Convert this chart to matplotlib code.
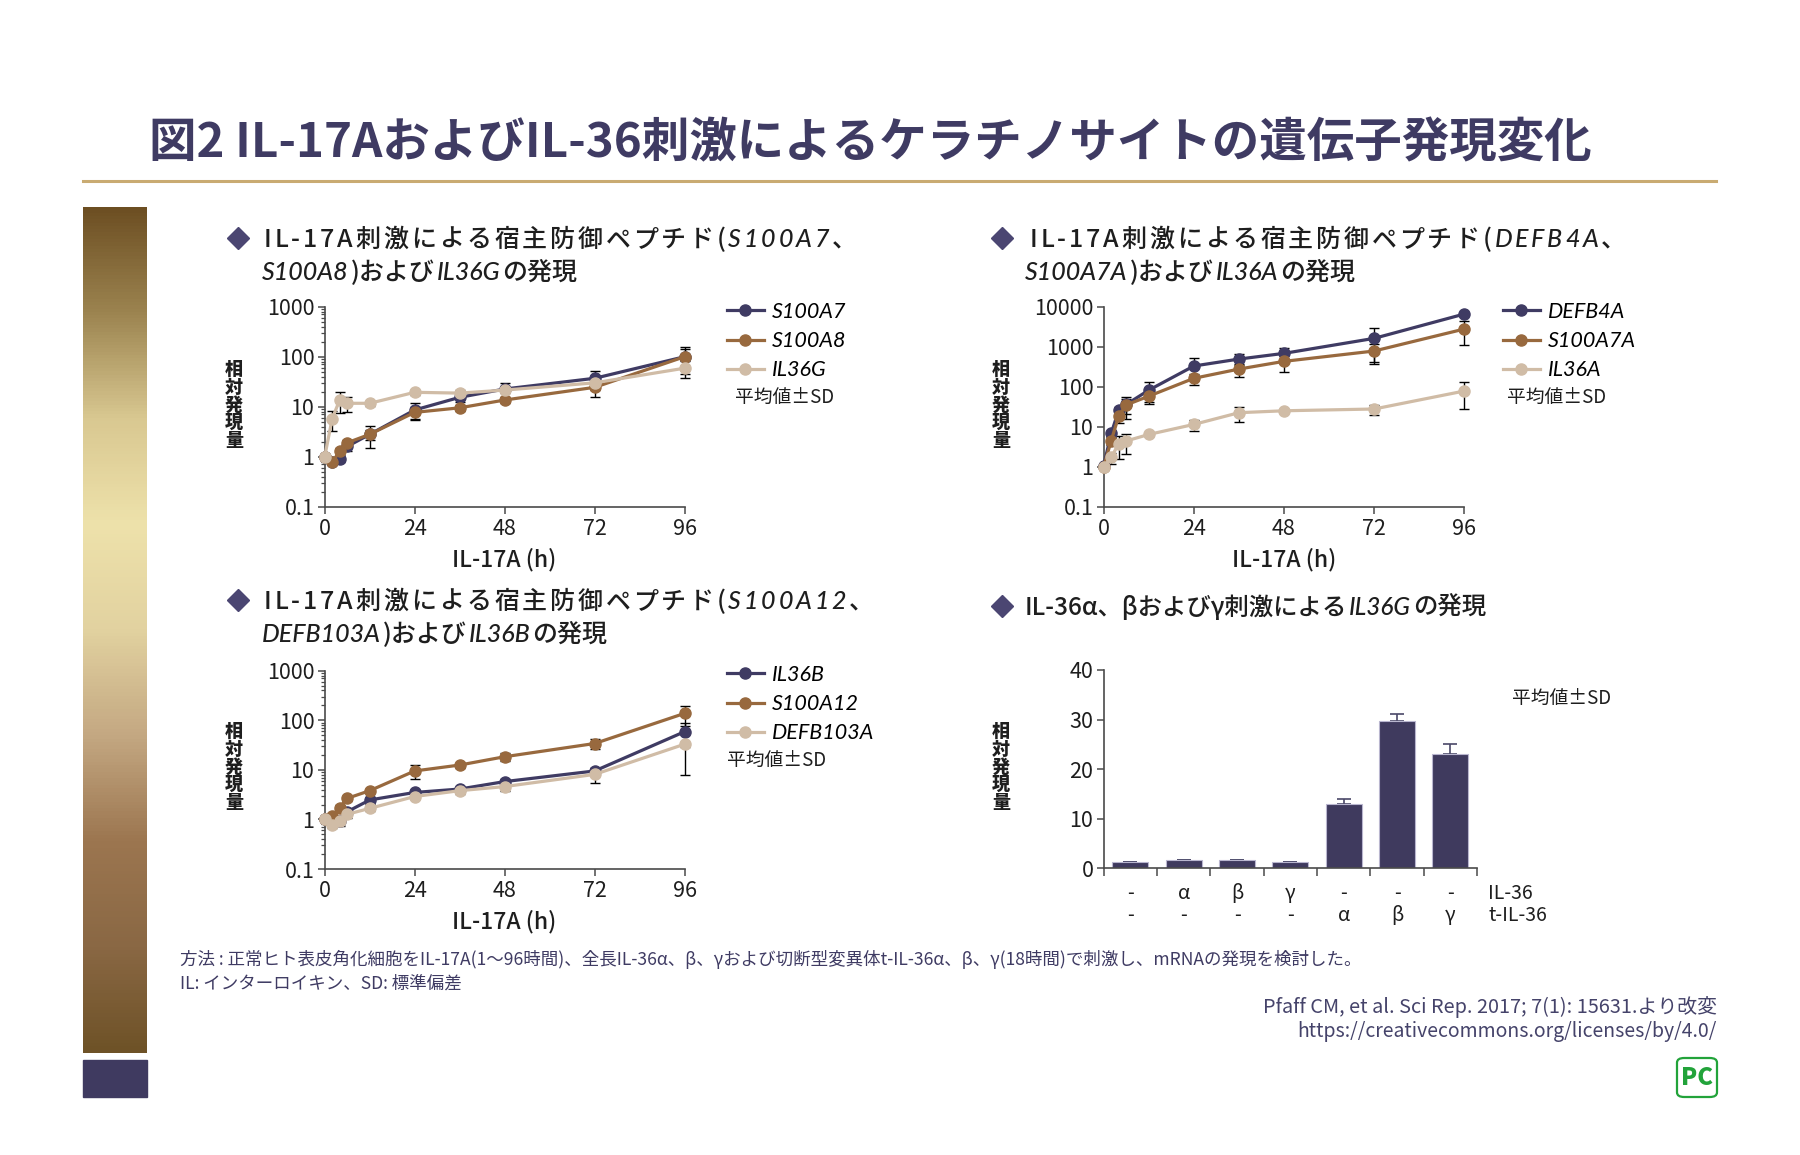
import numpy as np
import matplotlib.pyplot as plt
from matplotlib.lines import Line2D
from matplotlib.patches import FancyBboxPatch, Rectangle
from matplotlib.colors import LinearSegmentedColormap
from matplotlib.ticker import FixedLocator, LogLocator, NullFormatter
from matplotlib.font_manager import FontProperties
import matplotlib.transforms as mtransforms

plt.rcParams['font.family'] = ['Noto Sans CJK JP', 'DejaVu Sans']

# data
time_h = [0, 2, 4, 6, 12, 24, 36, 48, 72, 96]

# panel 1: S100A7, S100A8, IL36G
s100a7 = [1, 0.8, 0.9, 1.6, 2.8, 8.6, 15.4, 22.6, 37, 100]
s100a7_sd = [0, 0, 0.1, 0.3, 0.6, 3.2, 3, 7, 15, 55]
s100a8 = [1, 0.77, 1.3, 1.9, 2.8, 7.7, 9.5, 13.6, 24.4, 100]
s100a8_sd = [0, 0.05, 0.2, 0.3, 1.3, 2, 1.2, 1.5, 8.5, 45]
il36g = [1, 5.8, 13.6, 11.7, 11.7, 19.4, 18.7, 21.5, 30, 59]
il36g_sd = [0, 2.5, 6, 4, 1.5, 2.5, 2.5, 3, 5, 22]

# panel 2: DEFB4A, S100A7A, IL36A
defb4a = [1.06, 6.8, 26, 36, 82, 329, 491, 681, 1616, 6560]
defb4a_sd = [0, 1, 5, 20, 46, 180, 150, 230, 1250, 800]
s100a7a = [1, 4.5, 18.5, 35, 58, 162, 276, 430, 780, 2765]
s100a7a_sd = [0, 1, 6, 14, 16, 50, 100, 200, 360, 1650]
il36a = [1, 1.7, 3.8, 4.4, 6.4, 11.4, 22.4, 25, 27.7, 78]
il36a_sd = [0, 0.5, 2.2, 2.3, 0.5, 3.5, 9, 2, 8, 50]

# panel 3: IL36B, S100A12, DEFB103A
il36b = [1, 1.0, 0.95, 1.43, 2.47, 3.5, 4.1, 5.8, 9.5, 59]
il36b_sd = [0, 0.1, 0.2, 0.2, 0.4, 0.5, 0.4, 0.7, 1.2, 30]
s100a12 = [1, 1.17, 1.73, 2.66, 3.8, 9.5, 12.5, 18.4, 34, 138]
s100a12_sd = [0, 0.1, 0.2, 0.3, 0.4, 3, 1.5, 3, 8, 60]
defb103a = [1, 0.77, 0.95, 1.27, 1.67, 2.9, 3.8, 4.6, 8.1, 33]
defb103a_sd = [0, 0.1, 0.15, 0.2, 0.2, 0.3, 0.6, 0.8, 2.6, 25]

# panel 4: IL36G bars
bar_vals = [1.2, 1.7, 1.7, 1.2, 13, 29.8, 23]
bar_sd = [0, 0, 0, 0, 0.9, 1.3, 2.1]
il36_row = ['-', 'α', 'β', 'γ', '-', '-', '-']
til36_row = ['-', '-', '-', '-', 'α', 'β', 'γ']

NAVY = '#3f3b63'
BROWN = '#98693e'
BEIGE = '#d0bca6'
INK = '#1e1e1e'
AX = '#4a4a4a'

W, H = 1800, 1155
fig = plt.figure(figsize=(18, 11.55), dpi=100)
fig.patch.set_facecolor('white')
renderer = fig.canvas.get_renderer()


def fx(px):
    return px / W


def fy(py):
    return 1 - py / H


def put_runs(x, y, runs, size, gap=2.0, track=False, color=INK, weight='medium'):
    # y is the baseline in pixels
    for text, italic in runs:
        pieces = list(text) if track else [text]
        for p in pieces:
            if p == ' ':
                x += size * 0.35
                continue
            if italic:
                kw = dict(family=['Lato', 'DejaVu Sans'], style='italic')
            else:
                kw = dict(family=['Noto Sans CJK JP', 'DejaVu Sans'])
            t = fig.text(fx(x), fy(y), p, fontsize=size, color=color, weight=weight,
                         ha='left', va='baseline', **kw)
            x += t.get_window_extent(renderer).width + gap
    return x


def diamond(x, y):
    fig.add_artist(Line2D([fx(x)], [fy(y)], marker='D', markersize=11, color='#4b4672',
                          transform=fig.transFigure))


def ylabel_stack(x, yc):
    chars = '相対発現量'
    for i, c in enumerate(chars):
        fig.text(fx(x), fy(yc + (i - 2) * 17.6), c, fontsize=13, weight='black',
                 color=INK, ha='center', va='center')


def style_axes(ax):
    for s in ['top', 'right']:
        ax.spines[s].set_visible(False)
    for s in ['left', 'bottom']:
        ax.spines[s].set_color(AX)
        ax.spines[s].set_linewidth(1.2)
    ax.tick_params(which='major', direction='out', length=5, width=1.1, color=AX,
                   labelsize=15.5, labelcolor=INK, pad=2.5)
    ax.tick_params(which='minor', direction='out', length=3, width=0.9, color=AX)


def log_panel(rect, series, top, yticks, ylabels, names, leg_xy):
    ax = fig.add_axes(rect)
    for vals, sd, col in series:
        v = np.array(vals, dtype=float)
        e = np.array(sd, dtype=float)
        lo = np.minimum(e, v * 0.9)
        ax.errorbar(time_h, v, yerr=[lo, e], color=col, lw=2.3, marker='o', ms=8,
                    ecolor='black', elinewidth=1.0, capsize=3.6, capthick=1.0,
                    clip_on=False, zorder=3)
    ax.set_yscale('log')
    ax.set_ylim(0.1, top)
    ax.set_xlim(0, 96)
    ax.set_xticks([0, 24, 48, 72, 96])
    ax.yaxis.set_major_locator(FixedLocator(yticks))
    ax.set_yticklabels(ylabels)
    ax.yaxis.set_minor_locator(LogLocator(base=10, subs=np.arange(2, 10)))
    ax.yaxis.set_minor_formatter(NullFormatter())
    style_axes(ax)
    ax.tick_params(axis='x', pad=3)
    handles = [Line2D([], [], color=c, lw=2.3, marker='o', ms=8) for _, _, c in series]
    ax.legend(handles, names, loc='upper left', bbox_to_anchor=(fx(leg_xy[0]), fy(leg_xy[1])),
              bbox_transform=fig.transFigure, frameon=False, borderpad=0, borderaxespad=0,
              handlelength=1.7, handletextpad=0.4, labelspacing=0.42,
              prop=FontProperties(family=['Lato', 'DejaVu Sans'], style='italic', size=15.5))
    return ax


# side decoration
grad_colors = ['#6c4e22', '#9c8450', '#d9c891', '#eee2ab', '#e2d2a0', '#c4a882',
               '#9c7650', '#8a6844', '#6e5227']
cmap = LinearSegmentedColormap.from_list('band', grad_colors)
gax = fig.add_axes([fx(83), fy(1053), fx(64), (1053 - 207) / H])
gax.imshow(np.linspace(0, 1, 256).reshape(-1, 1), aspect='auto', cmap=cmap)
gax.axis('off')
fig.add_artist(Rectangle((fx(83), fy(1097)), fx(64), 37 / H, transform=fig.transFigure,
                         color='#3f3a60'))

# title
title = '図2 IL-17AおよびIL-36刺激によるケラチノサイトの遺伝子発現変化'
t = fig.text(fx(149), fy(143), title, fontsize=31, weight='bold', color=NAVY,
             ha='left', va='center')
tw = t.get_window_extent(renderer).width
t.set_fontsize(31 * 1441 / tw)
fig.add_artist(Line2D([fx(83), fx(1716)], [fy(181), fy(181)], color='#c9ab72', lw=2.2,
                      transform=fig.transFigure))

# headings
HS = 18
diamond(238, 238)
put_runs(264, 247, [('IL-17A刺激による宿主防御ペプチド(', False), ('S100A7', True), ('、', False)],
         HS, gap=2.8, track=True)
put_runs(262, 280, [('S100A8', True), (')および', False), ('IL36G', True), ('の発現', False)],
         HS, gap=2)
diamond(1002, 238)
put_runs(1030, 247, [('IL-17A刺激による宿主防御ペプチド(', False), ('DEFB4A', True), ('、', False)],
         HS, gap=2.8, track=True)
put_runs(1025, 280, [('S100A7A', True), (')および', False), ('IL36A', True), ('の発現', False)],
         HS, gap=2)
diamond(238, 600)
put_runs(264, 609, [('IL-17A刺激による宿主防御ペプチド(', False), ('S100A12', True), ('、', False)],
         HS, gap=2.8, track=True)
put_runs(262, 642, [('DEFB103A', True), (')および', False), ('IL36B', True), ('の発現', False)],
         HS, gap=2)
diamond(1002, 606)
put_runs(1025, 615, [('IL-36α、βおよびγ刺激による', False), ('IL36G', True), ('の発現', False)],
         17.6, gap=2)

# log panels
log_panel([fx(324.7), fy(506.7), 360 / W, 200 / H],
          [(s100a7, s100a7_sd, NAVY), (s100a8, s100a8_sd, BROWN), (il36g, il36g_sd, BEIGE)],
          1000, [0.1, 1, 10, 100, 1000], ['0.1', '1', '10', '100', '1000'],
          ['S100A7', 'S100A8', 'IL36G'], (727, 302))
log_panel([fx(1103.7), fy(506.7), 360.6 / W, 200 / H],
          [(defb4a, defb4a_sd, NAVY), (s100a7a, s100a7a_sd, BROWN), (il36a, il36a_sd, BEIGE)],
          10000, [0.1, 1, 10, 100, 1000, 10000], ['0.1', '1', '10', '100', '1000', '10000'],
          ['DEFB4A', 'S100A7A', 'IL36A'], (1503, 302))
log_panel([fx(324.7), fy(869), 360 / W, 198.3 / H],
          [(il36b, il36b_sd, NAVY), (s100a12, s100a12_sd, BROWN), (defb103a, defb103a_sd, BEIGE)],
          1000, [0.1, 1, 10, 100, 1000], ['0.1', '1', '10', '100', '1000'],
          ['IL36B', 'S100A12', 'DEFB103A'], (727, 665))

# bar panel
bx = fig.add_axes([fx(1103.7), fy(868.3), 373.3 / W, 198.3 / H])
pos = np.arange(len(bar_vals))
bx.bar(pos, bar_vals, width=0.68, color='#3f3a5e', edgecolor='#b9b6cf', linewidth=0.8, zorder=2)
bx.errorbar(pos, bar_vals, yerr=[np.zeros(len(bar_sd)), bar_sd], fmt='none', ecolor='#4a4868',
            elinewidth=1.2, capsize=5, capthick=1.2, zorder=1)
bx.set_xlim(-0.5, len(bar_vals) - 0.5)
bx.set_ylim(0, 40)
bx.set_yticks([0, 10, 20, 30, 40])
bx.set_xticks(np.arange(-0.5, len(bar_vals), 1.0))
bx.set_xticklabels([])
style_axes(bx)
bx.tick_params(axis='x', length=6)
trans = mtransforms.blended_transform_factory(bx.transData, bx.transAxes)
for i in range(len(bar_vals)):
    bx.text(pos[i], -0.125, il36_row[i], transform=trans, ha='center', va='center', fontsize=14, color=INK)
    bx.text(pos[i], -0.236, til36_row[i], transform=trans, ha='center', va='center', fontsize=14, color=INK)
bx.text(1.0295, -0.125, 'IL-36', transform=bx.transAxes, ha='left', va='center', fontsize=14, color=INK)
bx.text(1.0295, -0.236, 't-IL-36', transform=bx.transAxes, ha='left', va='center', fontsize=14, color=INK)

# axis labels
for x, yc in [(234, 405), (1001, 405), (234, 767), (1001, 767)]:
    ylabel_stack(x, yc)
for x, y in [(504, 560), (1284, 560), (504, 922)]:
    fig.text(fx(x), fy(y), 'IL-17A (h)', fontsize=16.5, weight='medium', color=INK,
             ha='center', va='center')

# mean +- SD notes
for x, y in [(735, 397), (1507, 397), (727, 760), (1512, 698)]:
    fig.text(fx(x), fy(y), '平均値±SD', fontsize=13.5, color=INK, ha='left', va='center')

# footer
fig.text(fx(180), fy(959),
         '方法 : 正常ヒト表皮角化細胞をIL-17A(1〜96時間)、全長IL-36α、β、γおよび切断型変異体t-IL-36α、β、γ(18時間)で刺激し、mRNAの発現を検討した。',
         fontsize=12.6, color=NAVY, ha='left', va='center')
fig.text(fx(180), fy(984), 'IL: インターロイキン、SD: 標準偏差', fontsize=12.6, color=NAVY,
         ha='left', va='center')
fig.text(fx(1717), fy(1007), 'Pfaff CM, et al. Sci Rep. 2017; 7(1): 15631.より改変',
         fontsize=14.3, color='#45436a', ha='right', va='center')
fig.text(fx(1717), fy(1031), 'https://creativecommons.org/licenses/by/4.0/',
         fontsize=14, color='#45436a', ha='right', va='center')

# logo
fig.add_artist(FancyBboxPatch((fx(1677), fy(1097)), fx(40), 39 / H,
                              boxstyle='round,pad=0,rounding_size=0.004',
                              transform=fig.transFigure, facecolor='white',
                              edgecolor='#22a33a', linewidth=1.6))
fig.text(fx(1697), fy(1078), 'PC', fontsize=17, weight='black', color='#22a33a',
         ha='center', va='center')

fig.savefig('out.png', dpi=100, facecolor='white')
